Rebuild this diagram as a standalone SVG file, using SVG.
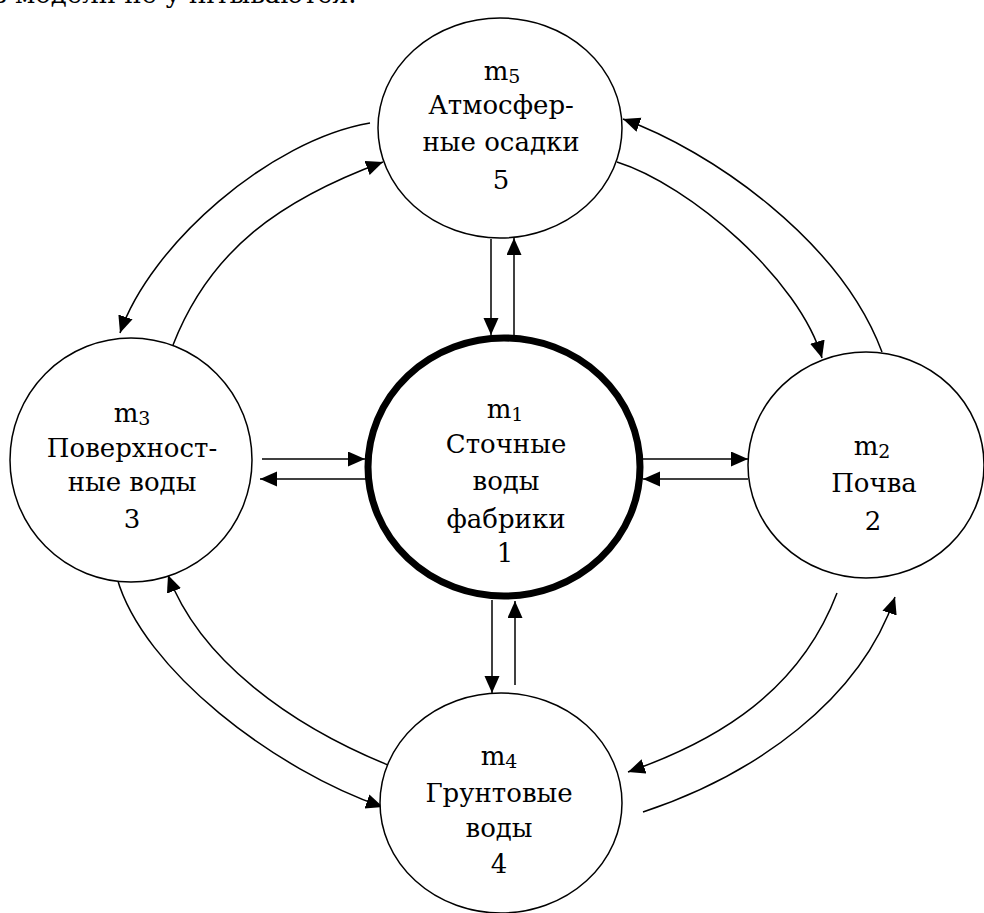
<svg xmlns="http://www.w3.org/2000/svg" width="984" height="913" viewBox="0 0 984 913">
<style>
  .node { fill: #fff; stroke: #000; stroke-width: 1.5; }
  .main { fill: #fff; stroke: #000; stroke-width: 7; }
  .lbl { font-family: "DejaVu Serif", "Liberation Serif", serif; font-size: 26px; fill: #000; text-anchor: middle; }
  .sub { font-size: 19px; }
  .con { fill: none; stroke: #000; stroke-width: 1.5; marker-end: url(#ah); }
</style>
<defs>
  <marker id="ah" markerUnits="userSpaceOnUse" markerWidth="18" markerHeight="16" refX="17" refY="7.5" orient="auto">
    <path d="M0,0 L17,7.5 L0,15 z" fill="#000"/>
  </marker>
</defs>
<rect width="984" height="913" fill="#fff"/>
<text class="lbl" x="-8" y="3" style="text-anchor:start">в модели не учитываются.</text>

<g id="connectors">
  <line class="con" x1="491" y1="239" x2="491" y2="335"/>
  <line class="con" x1="514" y1="335" x2="514" y2="238"/>
  <line class="con" x1="492" y1="600" x2="492" y2="693"/>
  <line class="con" x1="515" y1="685" x2="515" y2="601"/>
  <line class="con" x1="262" y1="459" x2="365" y2="459"/>
  <line class="con" x1="366" y1="479" x2="260" y2="479"/>
  <line class="con" x1="643" y1="459" x2="748" y2="459"/>
  <line class="con" x1="748" y1="479" x2="643" y2="479"/>
  <path class="con" d="M370,123 C270,140 150,245 120,333"/>
  <path class="con" d="M173,345 C210,250 280,200 383,162"/>
  <path class="con" d="M882,352 C840,240 710,150 623,119"/>
  <path class="con" d="M617,162 C690,185 800,280 822,358"/>
  <path class="con" d="M117,578 C143,670 275,770 383,807"/>
  <path class="con" d="M388,765 C290,725 200,660 168,575"/>
  <path class="con" d="M643,812 C755,775 860,700 895,597"/>
  <path class="con" d="M837,593 C800,690 720,740 628,772"/>
</g>

<g id="node5">
  <ellipse class="node" cx="500" cy="128" rx="122" ry="110"/>
  <text class="lbl" x="502" y="80">m<tspan class="sub" dy="3">5</tspan></text>
  <text class="lbl" x="501" y="114">Атмосфер-</text>
  <text class="lbl" x="501" y="151">ные осадки</text>
  <text class="lbl" x="501" y="189">5</text>
</g>

<g id="node3">
  <ellipse class="node" cx="131" cy="460" rx="121" ry="122"/>
  <text class="lbl" x="132" y="422">m<tspan class="sub" dy="3">3</tspan></text>
  <text class="lbl" x="132" y="457">Поверхност-</text>
  <text class="lbl" x="132" y="491">ные воды</text>
  <text class="lbl" x="132" y="528">3</text>
</g>

<g id="node1">
  <ellipse class="main" cx="504" cy="467" rx="136" ry="129"/>
  <text class="lbl" x="505" y="418">m<tspan class="sub" dy="3">1</tspan></text>
  <text class="lbl" x="506" y="453">Сточные</text>
  <text class="lbl" x="506" y="490">воды</text>
  <text class="lbl" x="506" y="528">фабрики</text>
  <text class="lbl" x="505" y="562">1</text>
</g>

<g id="node2">
  <ellipse class="node" cx="866" cy="465" rx="118" ry="113"/>
  <text class="lbl" x="872" y="455">m<tspan class="sub" dy="3">2</tspan></text>
  <text class="lbl" x="874" y="492">Почва</text>
  <text class="lbl" x="873" y="530">2</text>
</g>

<g id="node4">
  <ellipse class="node" cx="501" cy="803" rx="121" ry="110"/>
  <text class="lbl" x="499" y="765">m<tspan class="sub" dy="3">4</tspan></text>
  <text class="lbl" x="499" y="802">Грунтовые</text>
  <text class="lbl" x="499" y="837">воды</text>
  <text class="lbl" x="499" y="873">4</text>
</g>
</svg>
